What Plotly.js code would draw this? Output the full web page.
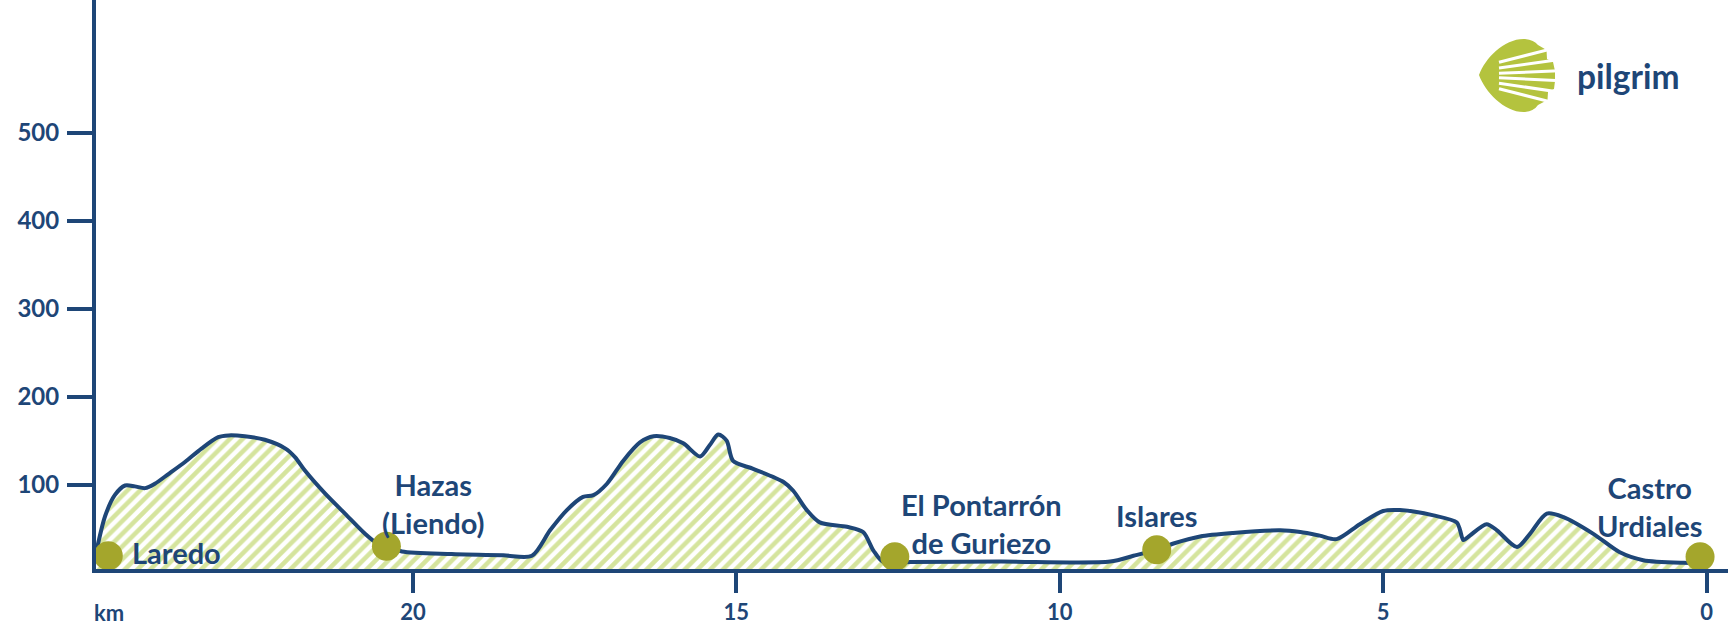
<!DOCTYPE html>
<html>
<head>
<meta charset="utf-8">
<script src="https://cdn.plot.ly/plotly-3.0.1.min.js"></script>
<style>
html,body{margin:0;padding:0;background:#fff;}
#chart{width:1728px;height:627px;}
</style>
</head>
<body>
<div id="chart"></div>
<script>
// ---- Data (km remaining to Castro Urdiales, elevation in m) ----
const profileKm = [24.90, 24.76, 24.61, 24.45, 24.30, 24.14, 23.99, 23.78, 23.52, 23.27,
  23.01, 22.85, 22.60, 22.29, 21.97, 21.82, 21.67, 21.36, 21.05, 20.74,
  20.59, 20.41, 20.17, 19.40, 18.60, 18.16, 17.88, 17.62, 17.37, 17.21,
  17.00, 16.75, 16.49, 16.28, 16.03, 15.82, 15.56, 15.41, 15.28, 15.15,
  15.05, 14.74, 14.27, 14.12, 13.91, 13.71, 13.29, 13.04, 12.88, 12.73,
  12.31, 10.92, 9.22, 8.86, 8.50, 8.24, 7.83, 7.32, 6.59, 6.28,
  5.98, 5.72, 5.36, 5.00, 4.74, 4.22, 3.86, 3.81, 3.76, 3.66,
  3.40, 3.24, 2.93, 2.73, 2.47, 2.21, 1.75, 1.34, 0.98, 0.36, 0.10];
const profileElev = [22, 64, 88, 99, 98, 96, 101, 112, 126, 141,
  154, 156, 155, 151, 141, 131, 116, 90, 67, 44,
  35, 30, 24, 21, 19.5, 19, 48, 71, 86, 88,
  101, 127, 148, 155, 153, 147, 132, 145, 157, 150,
  127, 118, 103, 93, 71, 57, 52, 46, 25, 12,
  12, 12.5, 12.5, 19, 26, 33, 41, 45, 48, 46,
  42, 38, 55, 70, 71, 65, 57, 48, 37, 42,
  55, 48, 29, 44, 67, 63, 44, 23, 14, 11, 11];

const placeNames = ['Laredo', 'Hazas<br>(Liendo)', 'El Pontarrón<br>de Guriezo', 'Islares', 'Castro<br>Urdiales'];
const placeKm = [24.71, 20.41, 12.55, 8.50, 0.10];
const placeElev = [19, 30, 18, 26, 18];

const kmTicks = [20, 15, 10, 5, 0];
const kmTickLabels = ['20', '15', '10', '5', '0'];
const elevTicks = [100, 200, 300, 400, 500];
const elevTickLabels = ['100', '200', '300', '400', '500'];

// ---- Style ----
const NAVY = '#1e4677';
const OLIVE = '#a4a62c';
const HATCH = '#d5e49d';
const SHELL = '#b4c33e';
const FONT = 'Lato, "Open Sans", sans-serif';

// label placement (pixels relative to each dot)
const labelStyle = [
  {xshift: 22, yshift: 3, xanchor: 'left'},
  {xshift: 47, yshift: 43, xanchor: 'center'},
  {xshift: 87, yshift: 33, xanchor: 'center'},
  {xshift: 0, yshift: 34, xanchor: 'center'},
  {xshift: -51, yshift: 50, xanchor: 'center'}
];

// Layout geometry
const W = 1728, H = 627;
const M = {l: 96, r: 0, t: 0, b: 58};
const plotW = W - M.l - M.r, plotH = H - M.t - M.b;
function px(X, Y) { return [(X - M.l) / plotW, (H - M.b - Y) / plotH]; }
function pp(X, Y) { const p = px(X, Y); return p[0].toFixed(5) + ',' + p[1].toFixed(5); }

const traces = [
  {
    x: profileKm, y: profileElev, type: 'scatter', mode: 'lines',
    line: {color: NAVY, width: 4, shape: 'spline', smoothing: 0.8},
    fill: 'tozeroy', fillcolor: 'white',
    fillpattern: {shape: '/', fgcolor: HATCH, bgcolor: 'white', size: 9, solidity: 0.5},
    hoverinfo: 'skip'
  },
  {
    x: placeKm, y: placeElev, type: 'scatter', mode: 'markers',
    marker: {color: OLIVE, size: 29, line: {width: 0}},
    cliponaxis: false, hoverinfo: 'skip'
  }
];

const annotations = placeNames.map((name, i) => ({
  x: placeKm[i], y: placeElev[i], xref: 'x', yref: 'y',
  text: name, showarrow: false,
  xanchor: labelStyle[i].xanchor, yanchor: 'middle',
  xshift: labelStyle[i].xshift, yshift: labelStyle[i].yshift,
  font: {family: FONT, size: 29, color: NAVY, weight: 700},
  align: 'center'
}));

// "km" unit label under the y axis
annotations.push({
  x: px(92, 0)[0], y: px(0, 612)[1], xref: 'paper', yref: 'paper',
  text: 'km', showarrow: false, xanchor: 'left', yanchor: 'middle',
  font: {family: FONT, size: 22, color: NAVY, weight: 700}
});
// logo word
const lw = px(1628, 76);
annotations.push({
  x: lw[0], y: lw[1], xref: 'paper', yref: 'paper',
  text: 'pilgrim', showarrow: false, xanchor: 'center', yanchor: 'middle',
  font: {family: FONT, size: 33.5, color: NAVY, weight: 700}
});

// Logo shell (decoration)
const shapes = [];
shapes.push({
  type: 'path', xref: 'paper', yref: 'paper', layer: 'above',
  path: 'M' + pp(1479, 75) +
        ' C' + pp(1485, 58) + ' ' + pp(1505, 38) + ' ' + pp(1525, 39) +
        ' Q' + pp(1534, 40) + ' ' + pp(1538, 45) +
        ' L' + pp(1546.5, 50) + ' L' + pp(1547, 59) + ' L' + pp(1553, 62) +
        ' L' + pp(1555, 71) + ' L' + pp(1555, 81) + ' L' + pp(1554, 89) +
        ' L' + pp(1548, 92) + ' L' + pp(1547.5, 100) + ' L' + pp(1538, 105) +
        ' Q' + pp(1534, 111) + ' ' + pp(1525, 112) +
        ' C' + pp(1505, 113) + ' ' + pp(1485, 92) + ' ' + pp(1479, 75) + ' Z',
  fillcolor: SHELL, line: {width: 0}
});
const O = [1447, 75.5];
[-14.3, -8.1, -2.4, 2.6, 8.4, 14.3].forEach(a => {
  const t = a * Math.PI / 180;
  const r0 = (1499 - O[0]) / Math.cos(t), r1 = 130;
  const p0 = px(O[0] + r0 * Math.cos(t), O[1] + r0 * Math.sin(t));
  const p1 = px(O[0] + r1 * Math.cos(t), O[1] + r1 * Math.sin(t));
  shapes.push({type: 'line', xref: 'paper', yref: 'paper', layer: 'above',
    x0: p0[0], y0: p0[1], x1: p1[0], y1: p1[1], line: {color: 'white', width: 3}});
});

const axisCommon = {
  showgrid: false, zeroline: false, showline: true, linecolor: NAVY, linewidth: 4,
  ticks: 'outside', tickwidth: 4, tickcolor: NAVY, fixedrange: true
};

const layout = {
  width: W, height: H, margin: M,
  paper_bgcolor: 'white', plot_bgcolor: 'white', showlegend: false,
  xaxis: Object.assign({}, axisCommon, {
    range: [24.90, -0.332], tickmode: 'array', tickvals: kmTicks, ticktext: kmTickLabels,
    ticklen: 20, ticklabelstandoff: 1,
    tickfont: {family: FONT, size: 22, color: NAVY, weight: 700}
  }),
  yaxis: Object.assign({}, axisCommon, {
    range: [4.0, 651.3], tickmode: 'array', tickvals: elevTicks, ticktext: elevTickLabels,
    ticklen: 25, ticklabelstandoff: 3,
    tickfont: {family: FONT, size: 24, color: NAVY, weight: 700}
  }),
  annotations: annotations,
  shapes: shapes
};

Plotly.newPlot('chart', traces, layout, {displayModeBar: false, staticPlot: true});
</script>
</body>
</html>
